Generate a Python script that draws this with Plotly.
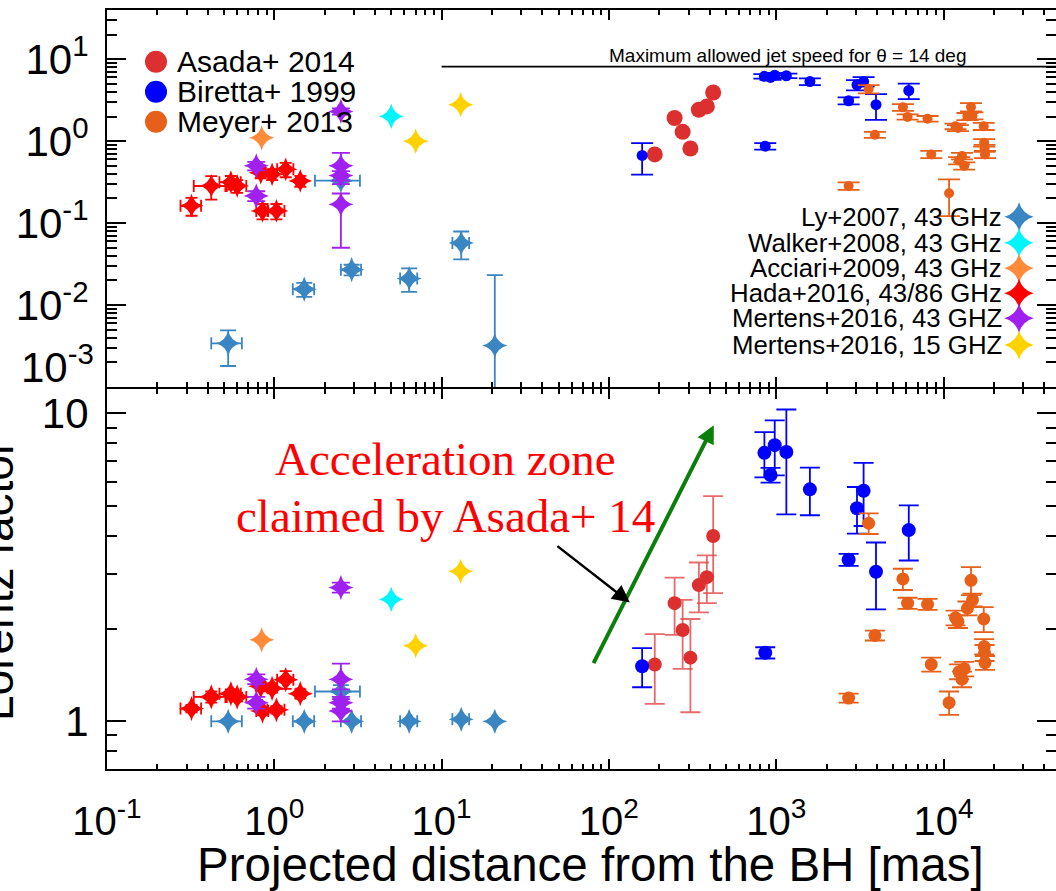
import numpy as np
import plotly.graph_objects as go

# ---------------- data ----------------
# Asada+ 2014 (red circles)
asada_x     = [188, 247, 276, 307, 345, 385, 420]
asada_beta  = [0.69, 1.92, 1.30, 0.815, 2.42, 2.66, 3.93]
asada_gamma = [1.53, 2.42, 1.98, 1.61, 2.77, 2.94, 4.00]
asada_gerr  = [0.39, 0.51, 0.50, 0.54, 0.51, 0.52, 1.39]

# Biretta+ 1999 (blue circles)
biretta_x     = [158, 850, 925, 980, 1150, 1590, 2710, 3040, 3330, 3950, 6200, 860]
biretta_beta  = [0.67, 6.2, 6.0, 6.4, 6.3, 5.35, 3.12, 4.88, 5.35, 2.79, 4.16, 0.87]
biretta_berr  = [0.28, 0.4, 0.4, 0.4, 0.4, 0.5, 0.3, 0.7, 0.7, 0.97, 0.9, 0.08]
biretta_gamma = [1.51, 7.45, 6.31, 7.89, 7.5, 5.67, 3.35, 4.92, 5.61, 3.06, 4.18, 1.67]
biretta_gerr  = [0.22, 1.25, 0.35, 1.6, 2.8, 1.0, 0.15, 0.85, 1.3, 0.75, 0.85, 0.07]

# Meyer+ 2013 (orange circles)
meyer_x     = [2710, 3570, 3890, 5720, 6100, 8030, 8450, 10800, 11800, 12200,
               12400, 12900, 13300, 13900, 14600, 14900, 17400, 17500, 17600, 17700]
meyer_beta  = [0.284, 4.33, 1.20, 2.59, 1.98, 1.88, 0.69, 0.232, 1.52, 1.45,
               0.58, 0.66, 0.50, 2.01, 2.61, 2.05, 1.52, 0.96, 0.82, 0.69]
meyer_berr  = [0.03, 0.5, 0.1, 0.25, 0.15, 0.15, 0.07, 0.11, 0.12, 0.12,
               0.06, 0.06, 0.05, 0.2, 0.3, 0.2, 0.15, 0.1, 0.08, 0.07]
meyer_gamma = [1.19, 4.40, 1.90, 2.90, 2.42, 2.40, 1.53, 1.15, 2.17, 2.11,
               1.45, 1.37, 1.48, 2.33, 2.87, 2.48, 2.15, 1.75, 1.67, 1.55]
meyer_gerr  = [0.04, 0.34, 0.07, 0.23, 0.1, 0.1, 0.08, 0.1, 0.12, 0.1,
               0.08, 0.08, 0.08, 0.12, 0.3, 0.12, 0.2, 0.1, 0.1, 0.08]

# Ly+2007, 43 GHz
ly_x      = [0.53, 1.51, 2.5, 2.9, 6.4, 13.1, 20.8]
ly_xerr   = [0.11, 0.22, 0.75, 0.4, 0.75, 1.5, 0.0]
ly_beta   = [0.0034, 0.0156, 0.33, 0.027, 0.021, 0.057, 0.0032]
ly_bplus  = [0.0015, 0.003, 0.03, 0.004, 0.007, 0.022, 0.020]
ly_bminus = [0.0016, 0.003, 0.03, 0.004, 0.0065, 0.021, 0.0031]
ly_gamma  = [1.0, 1.0, 1.25, 1.0, 1.0, 1.015, 1.0]
ly_gerr   = [0.0, 0.0, 0.06, 0.0, 0.0, 0.0, 0.0]

# Walker+2008, 43 GHz
walker_x = [5.0]
walker_beta = [2.01]
walker_gamma = [2.49]

# Acciari+2009, 43 GHz
acciari_x = [0.84]
acciari_beta = [1.1]
acciari_gamma = [1.84]

# Hada+2016, 43/86 GHz
hada_x     = [0.32, 0.42, 0.55, 0.60, 0.83, 0.85, 0.97, 1.03, 1.17, 1.43]
hada_xerr  = [0.045, 0.09, 0.08, 0.08, 0.05, 0.07, 0.05, 0.12, 0.13, 0.08]
hada_beta  = [0.163, 0.284, 0.316, 0.284, 0.413, 0.141, 0.394, 0.141, 0.453, 0.327]
hada_berr  = [0.04, 0.09, 0.06, 0.05, 0.06, 0.03, 0.06, 0.03, 0.09, 0.05]
hada_gamma = [1.10, 1.20, 1.23, 1.20, 1.30, 1.08, 1.28, 1.09, 1.365, 1.23]
hada_gerr  = [0.03, 0.05, 0.04, 0.04, 0.04, 0.03, 0.04, 0.03, 0.09, 0.04]

# Mertens+2016, 43 GHz
m43_x      = [0.78, 0.78, 2.5, 2.5, 2.5, 2.5]
m43_beta   = [0.50, 0.215, 2.31, 0.50, 0.38, 0.17]
m43_bplus  = [0.06, 0.03, 0.2, 0.22, 0.05, 0.06]
m43_bminus = [0.06, 0.03, 0.2, 0.20, 0.05, 0.12]
m43_gamma  = [1.37, 1.15, 2.72, 1.37, 1.15, 1.08]
m43_gplus  = [0.05, 0.05, 0.1, 0.17, 0.05, 0.1]
m43_gminus = [0.05, 0.05, 0.1, 0.10, 0.05, 0.08]

# Mertens+2016, 15 GHz
m15_x = [7.0, 13.0]
m15_beta = [1.0, 2.79]
m15_gamma = [1.76, 3.07]

# maximum apparent speed for theta = 14 deg
beta_max = 8.14
beta_max_x = [10, 60000]

# ticks
x_major = [0.1, 1, 10, 100, 1000, 10000]
x_major_text = ["10<sup>-1</sup>", "10<sup>0</sup>", "10<sup>1</sup>",
                "10<sup>2</sup>", "10<sup>3</sup>", "10<sup>4</sup>"]
y1_major = [0.01, 0.1, 1, 10]
y1_major_text = ["10<sup>-2</sup>", "10<sup>-1</sup>", "10<sup>0</sup>", "10<sup>1</sup>"]
y2_major = [1, 10]
y2_major_text = ["1", "10"]

left_legend = ["Asada+ 2014", "Biretta+ 1999", "Meyer+ 2013"]
right_legend = ["Ly+2007, 43 GHz", "Walker+2008, 43 GHz", "Acciari+2009, 43 GHz",
                "Hada+2016, 43/86 GHz", "Mertens+2016, 43 GHZ", "Mertens+2016, 15 GHZ"]

# colours
C_ASADA = "#dc3030"
C_ASADA_ERR = "rgba(225,70,70,0.8)"
C_BIRETTA = "#0000ff"
C_MEYER = "#e6601a"
C_LY = "#3a86c2"
C_WALKER = "#00f5ff"
C_ACCIARI = "#ff8a3a"
C_HADA = "#ff0000"
C_M43 = "#a020f0"
C_M15 = "#ffd200"

# ---------------- geometry ----------------
W, H = 1056, 891
L, R, T, B = 107, 0, 10, 122
PW, PH = W - L - R, H - T - B
LW = 2.2                     # frame line width
BOUND = 388                  # pixel row of the boundary between the panels
TOP_LOW = (769 - (BOUND - LW / 2)) / PH   # bottom of top panel domain
BOT_HIGH = (769 - (BOUND + LW / 2)) / PH  # top of bottom panel domain


def pxx(px):
    return (px - L) / PW


def pxy(py):
    return 1 - (py - T) / PH


FONT = "Liberation Sans, Arial, sans-serif"

fig = go.Figure()


def add(x, y, row, color, symbol, size, ey=None, eym=None, ex=None,
        ecolor=None, ew=8, exw=6, ethick=1.8):
    kw = {}
    if ey is not None:
        kw["error_y"] = dict(type="data", array=ey,
                             arrayminus=eym if eym is not None else ey,
                             color=ecolor or color, thickness=ethick, width=ew)
    if ex is not None:
        kw["error_x"] = dict(type="data", array=ex, color=ecolor or color,
                             thickness=ethick, width=exw)
    fig.add_trace(go.Scatter(
        x=x, y=y, mode="markers",
        marker=dict(symbol=symbol, size=size, color=color, line=dict(width=0)),
        xaxis="x" if row == 1 else "x2", yaxis="y" if row == 1 else "y2",
        showlegend=False, **kw))


# ---------- top panel (apparent speed) ----------
fig.add_trace(go.Scatter(x=beta_max_x, y=[beta_max, beta_max], mode="lines",
                         line=dict(color="black", width=1.6),
                         xaxis="x", yaxis="y", showlegend=False))
add(ly_x, ly_beta, 1, C_LY, "star-diamond", 18, ey=ly_bplus, eym=ly_bminus, ex=ly_xerr, ew=8, exw=6)
add(walker_x, walker_beta, 1, C_WALKER, "star-diamond", 18)
add(acciari_x, acciari_beta, 1, C_ACCIARI, "star-diamond", 18)
add(hada_x, hada_beta, 1, C_HADA, "star-diamond", 17, ey=hada_berr, ex=hada_xerr, ew=6, exw=6)
add(m43_x, m43_beta, 1, C_M43, "star-diamond", 18, ey=m43_bplus, eym=m43_bminus, ew=9)
add(m15_x, m15_beta, 1, C_M15, "star-diamond", 18)
add(asada_x, asada_beta, 1, C_ASADA, "circle", 16)
add(biretta_x, biretta_beta, 1, C_BIRETTA, "circle", 11, ey=biretta_berr, ew=11)
add(meyer_x, meyer_beta, 1, C_MEYER, "circle", 10, ey=meyer_berr, ew=11)

# ---------- bottom panel (Lorentz factor) ----------
add(ly_x, ly_gamma, 2, C_LY, "star-diamond", 18, ey=ly_gerr, ex=ly_xerr, ew=8, exw=6)
add(walker_x, walker_gamma, 2, C_WALKER, "star-diamond", 18)
add(acciari_x, acciari_gamma, 2, C_ACCIARI, "star-diamond", 18)
add(hada_x, hada_gamma, 2, C_HADA, "star-diamond", 18, ey=hada_gerr, ex=hada_xerr, ew=6, exw=6)
add(m43_x, m43_gamma, 2, C_M43, "star-diamond", 18, ey=m43_gplus, eym=m43_gminus, ew=9)
add(m15_x, m15_gamma, 2, C_M15, "star-diamond", 18)
add(asada_x, asada_gamma, 2, C_ASADA, "circle", 14, ey=asada_gerr, ecolor=C_ASADA_ERR, ew=10)
add(biretta_x, biretta_gamma, 2, C_BIRETTA, "circle", 14, ey=biretta_gerr, ew=10)
add(meyer_x, meyer_gamma, 2, C_MEYER, "circle", 13, ey=meyer_gerr, ew=10)

# ---------- legends (markers on an invisible overlay axis) ----------
left_rows = [61.7, 91.7, 121.7]
right_rows = [216.7, 242.7, 268.3, 293.3, 318.3, 345.0]
fig.add_trace(go.Scatter(
    x=[pxx(156)] * 3, y=[pxy(r) for r in left_rows], mode="markers",
    marker=dict(symbol="circle", size=22, color=[C_ASADA, C_BIRETTA, C_MEYER]),
    xaxis="x3", yaxis="y3", showlegend=False))
fig.add_trace(go.Scatter(
    x=[pxx(1019)] * 6, y=[pxy(r) for r in right_rows], mode="markers",
    marker=dict(symbol="star-diamond", size=21,
                color=[C_LY, C_WALKER, C_ACCIARI, C_HADA, C_M43, C_M15]),
    xaxis="x3", yaxis="y3", showlegend=False))

ann = []
for name, r in zip(left_legend, left_rows):
    ann.append(dict(text=name, xref="paper", yref="paper", x=pxx(175), y=pxy(r),
                    xanchor="left", yanchor="middle", showarrow=False,
                    font=dict(family=FONT, size=30, color="black")))
for name, r in zip(right_legend, right_rows):
    ann.append(dict(text=name, xref="paper", yref="paper", x=pxx(1004), y=pxy(r),
                    xanchor="right", yanchor="middle", showarrow=False,
                    font=dict(family=FONT, size=25.8, color="black")))

# 10^-3 label, lifted like in the reference
ann.append(dict(text="10<sup>-3</sup>", xref="paper", yref="y", x=pxx(96), y=-3,
                yshift=23, xanchor="right", yanchor="middle", showarrow=False,
                font=dict(family=FONT, size=42, color="black")))

ann.append(dict(text="Maximum allowed jet speed for \u03b8 = 14 deg", xref="paper", yref="paper",
                x=pxx(788), y=pxy(56), xanchor="center", yanchor="middle", showarrow=False,
                font=dict(family=FONT, size=19, color="black")))

SERIF = "Liberation Serif, Times New Roman, serif"
ann.append(dict(text="Acceleration zone", xref="paper", yref="paper",
                x=pxx(445), y=pxy(459), xanchor="center", yanchor="middle", showarrow=False,
                font=dict(family=SERIF, size=47, color="#ff0000")))
ann.append(dict(text="claimed by Asada+ 14", xref="paper", yref="paper",
                x=pxx(445), y=pxy(516), xanchor="center", yanchor="middle", showarrow=False,
                font=dict(family=SERIF, size=47, color="#ff0000")))

# arrows (data coordinates of the lower panel, log axes take log10 values)
green_from, green_to = (80.1, 1.527), (423.6, 9.16)
black_from, black_to = (48.2, 3.74), (133.4, 2.43)
ann.append(dict(text="", xref="x2", yref="y2", axref="x2", ayref="y2",
                x=np.log10(green_to[0]), y=np.log10(green_to[1]),
                ax=np.log10(green_from[0]), ay=np.log10(green_from[1]),
                showarrow=True, arrowhead=2, arrowsize=0.9, arrowwidth=4,
                arrowcolor="#0a800a", standoff=0, startstandoff=0))
ann.append(dict(text="", xref="x2", yref="y2", axref="x2", ayref="y2",
                x=np.log10(black_to[0]), y=np.log10(black_to[1]),
                ax=np.log10(black_from[0]), ay=np.log10(black_from[1]),
                showarrow=True, arrowhead=2, arrowsize=1.4, arrowwidth=2.5,
                arrowcolor="black", standoff=0, startstandoff=0))

# axis titles
ann.append(dict(text="Projected distance from the BH [mas]", xref="paper", yref="paper",
                x=pxx(590), y=pxy(864), xanchor="center", yanchor="middle", showarrow=False,
                font=dict(family=FONT, size=47.5, color="black")))
ann.append(dict(text="Lorentz factor", xref="paper", yref="paper", textangle=-90,
                x=pxx(-3), y=pxy(581), xanchor="center", yanchor="middle", showarrow=False,
                font=dict(family=FONT, size=46, color="black")))

# ---------- axes ----------
x_minor = [k * 10.0 ** e for e in range(-1, 5) for k in range(2, 10)]
y1_minor = [k * 10.0 ** e for e in range(-3, 2) for k in range(2, 10) if k * 10.0 ** e < 40]
y2_minor = [0.7, 0.8, 0.9] + [k for k in range(2, 10)]

common = dict(type="log", showgrid=False, zeroline=False, showline=True,
              linecolor="black", linewidth=LW, mirror="ticks", ticks="inside",
              tickcolor="black")
xr = [-1, -1 + PW / 167.3]

fig.update_layout(
    width=W, height=H,
    margin=dict(l=L, r=R, t=T, b=B, pad=0, autoexpand=False),
    paper_bgcolor="white", plot_bgcolor="rgba(0,0,0,0)",
    showlegend=False,
    xaxis=dict(**common, domain=[0, 1], anchor="y", range=xr,
               tickmode="array", tickvals=x_major, ticklen=10, tickwidth=2,
               showticklabels=False,
               minor=dict(tickmode="array", tickvals=x_minor, ticks="inside",
                          ticklen=5, tickwidth=1.5, tickcolor="black")),
    xaxis2=dict(**common, domain=[0, 1], anchor="y2", range=xr, matches="x",
                tickmode="array", tickvals=x_major, ticktext=x_major_text,
                ticklen=10, tickwidth=2, ticklabelstandoff=16,
                tickfont=dict(family=FONT, size=40, color="black"),
                minor=dict(tickmode="array", tickvals=x_minor, ticks="inside",
                           ticklen=5, tickwidth=1.5, tickcolor="black")),
    yaxis=dict(**common, domain=[TOP_LOW, 1], anchor="x",
               range=[-3, np.log10(40)],
               tickmode="array", tickvals=y1_major, ticktext=y1_major_text,
               ticklen=19, tickwidth=2, ticklabelstandoff=8,
               tickfont=dict(family=FONT, size=42, color="black"),
               minor=dict(tickmode="array", tickvals=y1_minor, ticks="inside",
                          ticklen=10, tickwidth=1.5, tickcolor="black")),
    yaxis2=dict(**common, domain=[0, BOT_HIGH], anchor="x2",
                range=[np.log10(0.7), np.log10(12)],
                tickmode="array", tickvals=y2_major, ticktext=y2_major_text,
                ticklen=19, tickwidth=2, ticklabelstandoff=8,
                tickfont=dict(family=FONT, size=42, color="black"),
                minor=dict(tickmode="array", tickvals=y2_minor, ticks="inside",
                           ticklen=10, tickwidth=1.5, tickcolor="black")),
    xaxis3=dict(domain=[0, 1], anchor="y3", range=[0, 1], visible=False),
    yaxis3=dict(domain=[0, 1], anchor="x3", range=[0, 1], visible=False),
    annotations=ann,
)

fig.write_html("out.html")
